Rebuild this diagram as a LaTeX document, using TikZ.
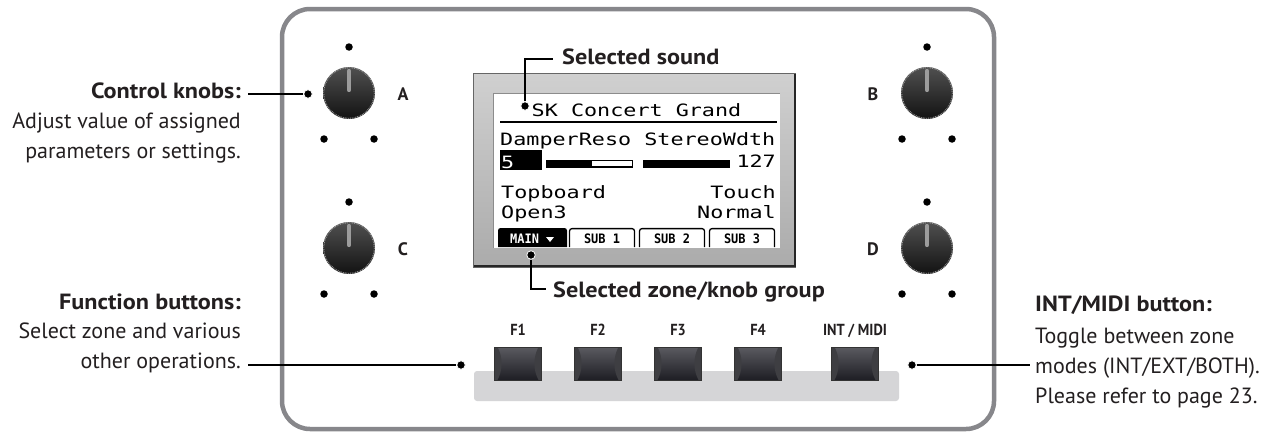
\documentclass[tikz,border=0pt]{standalone}
\usepackage{fontspec}
\usepackage{graphicx}
\setmainfont{PT Sans}
\newfontfamily\lcdfont{DejaVu Sans Mono}
\definecolor{panelgray}{HTML}{87878B}
\definecolor{bezeltop}{HTML}{D0D0D0}
\definecolor{bezelbot}{HTML}{ABABAB}
\definecolor{stripgray}{HTML}{D5D5D7}
\definecolor{btntop}{HTML}{5A5A60}
\definecolor{btnbot}{HTML}{1E1E24}
\definecolor{btnside}{HTML}{3E3E42}
\definecolor{knobtop}{HTML}{505050}
\definecolor{knobbot}{HTML}{121212}
\definecolor{ptrgray}{HTML}{9C9C9C}
\definecolor{textblack}{HTML}{231F20}
\newcommand{\lcdx}[1]{\scalebox{1.28}[1]{#1}}
\newcommand{\tabx}[1]{\scalebox{0.92}[1]{#1}}
\newcommand{\bx}[1]{\scalebox{1.1}[1]{#1}}
\newcommand{\fx}[1]{\scalebox{0.9}[1]{#1}}
\begin{document}
\begin{tikzpicture}[x=1pt,y=-1pt,
  lbl/.style={inner sep=0pt, text=textblack, font=\fontsize{22}{26}\selectfont},
  lblb/.style={inner sep=0pt, text=textblack, font=\fontsize{22}{26}\selectfont\bfseries},
  callout/.style={inner sep=0pt, text=textblack, font=\fontsize{22}{26}\selectfont\bfseries},
  knoblbl/.style={inner sep=0pt, text=textblack, font=\fontsize{18}{20}\selectfont\bfseries},
  flbl/.style={inner sep=0pt, text=textblack, font=\fontsize{16}{18}\selectfont\bfseries},
  lcd/.style={inner sep=0pt, font=\lcdfont\fontsize{17}{20}\selectfont},
  tabtxt/.style={inner sep=0pt, font=\lcdfont\bfseries\fontsize{13}{15}\selectfont},
  dot/.style={circle, fill=black, draw=white, line width=0.8pt, inner sep=0pt, minimum size=8.5pt},
  leader/.style={draw=black, line width=1.1pt},
  knob/.pic={
    \shade[top color=knobtop, bottom color=knobbot] (0,0) circle (26);
    \draw[gray!75, line width=0.9pt, dash pattern=on 0.9pt off 0.9pt] (0,0) circle (25.3);
    \draw[ptrgray, line width=4.2pt, line cap=round] (0,-3) -- (0,-22);
  },
  fbtn/.pic={
    \shade[top color=btntop, bottom color=btnbot] (-23.5,-16.5) rectangle (23.5,16.5);
    \fill[btnside] (-23.5,-16.5) -- (-20.5,-16.5) .. controls (-15,-6) and (-15,6) .. (-20.5,16.5) -- (-23.5,16.5) -- cycle;
    \fill[btnside] (23.5,-16.5) -- (20.5,-16.5) .. controls (15,-6) and (15,6) .. (20.5,16.5) -- (23.5,16.5) -- cycle;
    \draw[black!80, line width=0.8pt] (-23.5,-16.5) rectangle (23.5,16.5);
  }
]
\useasboundingbox (0,0) rectangle (1265,431);
\fill[white] (0,0) rectangle (1265,431);

% panel
\draw[panelgray, line width=4.5pt, rounded corners=28pt] (282,9) rectangle (994,429);

% button strip
\fill[stripgray, rounded corners=3pt] (474,371) rectangle (899,401);

% LCD bezel and screen
\shade[top color=bezeltop, bottom color=bezelbot] (473,73) rectangle (795,267);
\draw[black!60, line width=1pt] (473,73) rectangle (795,267);
\draw[black!85, line width=2.5pt] (474,266) -- (795,266) -- (795,74);
\fill[white] (493,93) rectangle (780,248);
\draw[black!45, line width=1pt] (493,248) -- (493,93) -- (780,93);

% screen content
\node[lcd, anchor=base] (title) at (636.5,116) {\lcdx{SK Concert Grand}};
\draw[line width=2pt] (500,122) -- (777,122);
\node[lcd, anchor=base west] (params) at (500,145) {\lcdx{DamperReso StereoWdth}};
\fill[black] (500,150) rectangle (542,170);
\node[lcd, text=white, anchor=base west] (val5) at (501,168) {\lcdx{5}};
\draw[line width=1.2pt] (546.6,160.6) rectangle (632.4,167);
\fill[black] (546,160) rectangle (592,167.6);
\fill[black] (643,160) rectangle (730,167.6);
\node[lcd, anchor=base east] (val127) at (776,167) {\lcdx{127}};
\node[lcd, anchor=base west] (topb) at (501,198) {\lcdx{Topboard}};
\node[lcd, anchor=base east] (touch) at (776,198) {\lcdx{Touch}};
\node[lcd, anchor=base west] (open) at (501,218) {\lcdx{Open3}};
\node[lcd, anchor=base east] (normal) at (776,218) {\lcdx{Normal}};

% tabs
\fill[black] (498,247) [rounded corners=2.5pt] -- (498,228) -- (567,228) [sharp corners] -- (567,247) -- cycle;
\node[tabtxt, text=white, anchor=base west] (tmain) at (510,243) {\tabx{MAIN}};
\fill[white] (546,237) -- (554,237) -- (550,242) -- cycle;
\draw[line width=1.3pt] (569.5,247) [rounded corners=2.5pt] -- (569.5,228.6) -- (634.5,228.6) [sharp corners] -- (634.5,247);
\node[tabtxt, anchor=base] (tsub1) at (602,243) {\tabx{SUB 1}};
\draw[line width=1.3pt] (639.5,247) [rounded corners=2.5pt] -- (639.5,228.6) -- (704.5,228.6) [sharp corners] -- (704.5,247);
\node[tabtxt, anchor=base] (tsub2) at (672,243) {\tabx{SUB 2}};
\draw[line width=1.3pt] (709.5,247) [rounded corners=2.5pt] -- (709.5,228.6) -- (774.5,228.6) [sharp corners] -- (774.5,247);
\node[tabtxt, anchor=base] (tsub3) at (742,243) {\tabx{SUB 3}};

% knobs
\pic at (349,93) {knob};
\pic at (349,248) {knob};
\pic at (927,93) {knob};
\pic at (927,248) {knob};
\foreach \cx/\cy/\nm in {349/93/A,349/248/C,927/93/B,927/248/D}{
  \node[dot, minimum size=7.5pt, draw=none] (t\nm) at (\cx,\cy-46) {};
  \node[dot, minimum size=7.5pt, draw=none] (l\nm) at (\cx-25,\cy+46) {};
  \node[dot, minimum size=7.5pt, draw=none] (r\nm) at (\cx+25,\cy+46) {};
}
\node[knoblbl] (labA) at (403,94) {A};
\node[knoblbl] (labC) at (403,249) {C};
\node[knoblbl] (labB) at (873,94) {B};
\node[knoblbl] (labD) at (873,249) {D};

% function buttons
\foreach \px/\nm/\tx in {518/F1/{F1},598/F2/{F2},678/F3/{F3},758/F4/{F4},855/IM/{INT / MIDI}}{
  \pic at (\px,363.5) {fbtn};
  \node[flbl, anchor=base] (lab\nm) at (\px,335) {\fx{\tx}};
}

% left texts
\node[lblb, anchor=base east] (ck) at (241,98) {\bx{Control knobs:}};
\node[lbl, anchor=base east] (ck2) at (241,128) {Adjust value of assigned};
\node[lbl, anchor=base east] (ck3) at (241,158) {parameters or settings.};
\coordinate (ckL) at (248,94);
\node[dot] (dA) at (308,94) {};
\draw[leader] (ckL) -- (dA);

\node[lblb, anchor=base east] (fb) at (241,309) {\bx{Function buttons:}};
\node[lbl, anchor=base east] (fb2) at (241,338) {Select zone and various};
\node[lbl, anchor=base east] (fb3) at (241,368) {other operations.};
\coordinate (fbL) at (248,365);
\node[dot] (dF) at (461,365) {};
\draw[leader] (fbL) -- (dF);

% right texts
\node[lblb, anchor=base west] (im) at (1035,311) {\bx{INT/MIDI button:}};
\node[lbl, anchor=base west] (im2) at (1035,343) {Toggle between zone};
\node[lbl, anchor=base west] (im3) at (1035,373) {modes (INT/EXT/BOTH).};
\node[lbl, anchor=base west] (im4) at (1035,403) {Please refer to page 23.};
\coordinate (imL) at (1030,365);
\node[dot] (dI) at (912,365) {};
\draw[leader] (dI) -- (imL);

% screen callouts
\node[dot] (dS) at (525,106) {};
\coordinate (sBend) at (525,59);
\coordinate (sEnd) at (553,59);
\draw[leader] (dS) -- (sBend) -- (sEnd);
\node[callout, anchor=base west] (selsnd) at (562,64) {\bx{Selected sound}};

\node[dot] (dZ) at (531,255) {};
\coordinate (zBend) at (531,289);
\coordinate (zEnd) at (546,289);
\draw[leader] (dZ) -- (zBend) -- (zEnd);
\node[callout, anchor=base west] (selzone) at (553,297) {\bx{Selected zone/knob group}};
\end{tikzpicture}
\end{document}
